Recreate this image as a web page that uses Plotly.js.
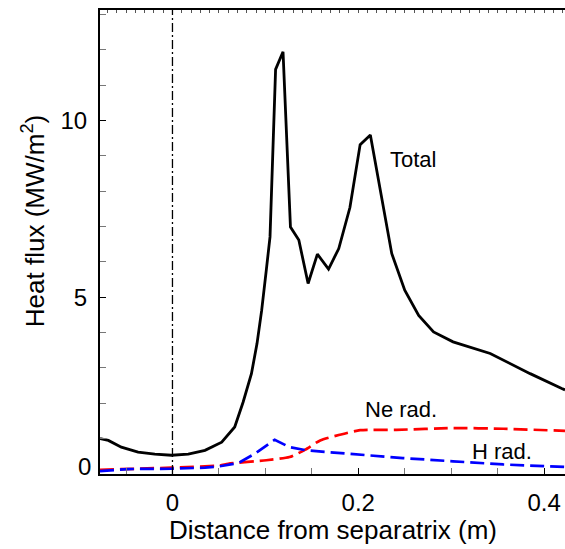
<!DOCTYPE html>
<html>
<head>
<meta charset="utf-8">
<script src="https://cdn.plot.ly/plotly-3.0.1.min.js"></script>
<style>html,body{margin:0;padding:0;background:#fff;}#chart{width:565px;height:549px;}</style>
</head>
<body>
<div id="chart"></div>
<script>
// Total heat flux
const totalX = [-0.078,-0.069,-0.055,-0.037,-0.019,-0.001,0.017,0.035,0.053,0.067,0.076,0.085,0.091,0.096,0.101,0.105,0.111,0.119,0.127,0.136,0.146,0.156,0.168,0.179,0.191,0.202,0.213,0.236,0.250,0.265,0.281,0.302,0.342,0.363,0.385,0.419,0.4225];
const totalY = [1.00,0.95,0.76,0.62,0.56,0.53,0.56,0.67,0.90,1.33,2.03,2.84,3.69,4.63,5.77,6.71,11.45,11.95,6.99,6.62,5.39,6.22,5.80,6.38,7.54,9.32,9.59,6.24,5.20,4.49,4.02,3.74,3.41,3.12,2.84,2.42,2.38];
// Ne radiation
const neX = [-0.078,-0.001,0.051,0.060,0.101,0.126,0.143,0.159,0.180,0.202,0.241,0.302,0.356,0.4225];
const neY = [0.12,0.18,0.24,0.29,0.39,0.48,0.69,0.95,1.11,1.24,1.25,1.30,1.28,1.22];
// H radiation
const hX = [-0.078,-0.048,-0.001,0.035,0.051,0.067,0.073,0.089,0.110,0.126,0.144,0.195,0.248,0.302,0.356,0.4225];
const hY = [0.08,0.14,0.15,0.18,0.22,0.29,0.34,0.58,0.97,0.76,0.67,0.56,0.45,0.36,0.27,0.20];
// Labels
const seriesLabels = ["Total", "Ne rad.", "H rad."];
const labelX = [0.232, 0.246, 0.355];
const labelY = [8.91, 1.83, 0.64];
const xTickVals = [0, 0.2, 0.4];
const xTickText = ["0", "0.2", "0.4"];
const yTickVals = [5, 10];
const yTickText = ["5", "10"];
const yZeroLabel = "0";
const xTitle = "Distance from separatrix (m)";
const yTitle = "Heat flux (MW/m<sup>2</sup>)";

const FONT = '"Liberation Sans", Arial, Helvetica, sans-serif';

const traces = [
  {x: totalX, y: totalY, mode: 'lines', line: {color: '#000', width: 2.8}, name: seriesLabels[0], hoverinfo: 'skip'},
  {x: neX, y: neY, mode: 'lines', line: {color: '#ff0000', width: 2.7, dash: '14px,6px', shape: 'spline', smoothing: 0.6}, name: seriesLabels[1], hoverinfo: 'skip'},
  {x: hX, y: hY, mode: 'lines', line: {color: '#0000ff', width: 2.7, dash: '14px,6px'}, name: seriesLabels[2], hoverinfo: 'skip'},
  {x: [0], y: [0], xaxis: 'x2', yaxis: 'y', mode: 'markers', marker: {size: 0.1, opacity: 0}, showlegend: false, hoverinfo: 'skip'}
];

const annotations = seriesLabels.map((t, i) => ({
  x: labelX[i], y: labelY[i], xref: 'x', yref: 'y', text: t, showarrow: false,
  xanchor: i === 0 ? 'left' : 'center', yanchor: 'middle',
  font: {family: FONT, size: 22, color: '#000'}
}));
annotations.push({
  x: 0, y: 0.22, xref: 'paper', yref: 'y', text: yZeroLabel, showarrow: false,
  xanchor: 'right', yanchor: 'middle', xshift: -7,
  font: {family: FONT, size: 24, color: '#000'}
});
annotations.push({
  x: -0.144, y: 0.545, xref: 'paper', yref: 'paper', text: yTitle, showarrow: false,
  textangle: -90, xanchor: 'center', yanchor: 'middle',
  font: {family: FONT, size: 26, color: '#000'}
});
annotations.push({
  x: 0.5, y: -0.121, xref: 'paper', yref: 'paper', text: xTitle, showarrow: false,
  xanchor: 'center', yanchor: 'middle',
  font: {family: FONT, size: 26, color: '#000'}
});

const layout = {
  width: 565, height: 549,
  margin: {l: 100, r: 0, t: 10, b: 75},
  paper_bgcolor: '#fff', plot_bgcolor: '#fff',
  showlegend: false,
  font: {family: FONT, size: 24, color: '#000'},
  xaxis: {
    range: [-0.078, 0.4225], showgrid: false, zeroline: false,
    tickmode: 'array', tickvals: xTickVals, ticktext: xTickText,
    ticks: 'inside', ticklen: 6, tickwidth: 1, tickcolor: '#000',
    minor: {tickmode: 'linear', tick0: 0, dtick: 0.05, ticks: 'inside', ticklen: 6, tickwidth: 1, tickcolor: '#777'},
    showline: true, linewidth: 2, linecolor: '#000',
    ticklabelstandoff: 6,
    tickfont: {family: FONT, size: 24}
  },
  xaxis2: {
    range: [-0.078, 0.4225], overlaying: 'x', side: 'top', anchor: 'y',
    showgrid: false, zeroline: false, showticklabels: false,
    tickmode: 'linear', tick0: 0, dtick: 0.01,
    ticks: 'inside', ticklen: 3, tickwidth: 1, tickcolor: '#555',
    showline: true, linewidth: 2, linecolor: '#000'
  },
  yaxis: {
    range: [0, 13.13], showgrid: false, zeroline: false,
    tickmode: 'array', tickvals: yTickVals, ticktext: yTickText,
    ticks: 'inside', ticklen: 6, tickwidth: 1, tickcolor: '#000',
    minor: {tickmode: 'linear', tick0: 0, dtick: 1, ticks: 'inside', ticklen: 6, tickwidth: 1, tickcolor: '#777'},
    showline: true, linewidth: 2, linecolor: '#000',
    ticklabelstandoff: 6,
    tickfont: {family: FONT, size: 24}
  },
  shapes: [{
    type: 'line', xref: 'x', yref: 'paper', x0: 0, x1: 0, y0: 0, y1: 1,
    line: {color: '#000', width: 1.3, dash: '9px,3px,2px,3px'}
  }],
  annotations: annotations
};

Plotly.newPlot('chart', traces, layout, {staticPlot: true, displayModeBar: false});
</script>
</body>
</html>
